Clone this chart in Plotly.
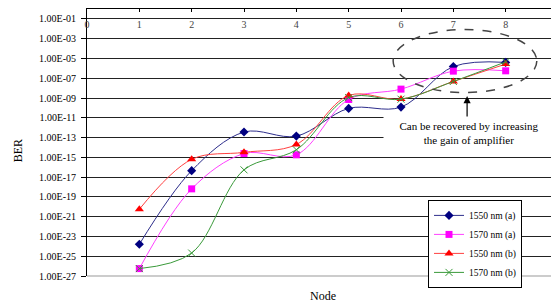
import plotly.graph_objects as go

nodes = [1, 2, 3, 4, 5, 6, 7, 8]
ber_1550a = [1.6e-24, 4.5e-17, 3.6e-13, 1.4e-13, 8.9e-11, 1.2e-10, 1.5e-6, 4.0e-6]
ber_1570a = [5.6e-27, 6.5e-19, 2.4e-15, 1.8e-15, 7.1e-10, 7.9e-9, 5.2e-7, 5.6e-7]
ber_1550b = [5.6e-21, 6.3e-16, 3.2e-15, 2.0e-14, 1.8e-9, 7.9e-10, 4.7e-8, 2.7e-6]
ber_1570b = [5.6e-27, 2.1e-25, 5.4e-17, 5.8e-15, 1.1e-9, 7.6e-10, 4.7e-8, 4.5e-6]

series_names = ["1550 nm (a)", "1570 nm (a)", "1550 nm (b)", "1570 nm (b)"]
x_ticks = list(range(0, 10))
y_exps = list(range(-27, 0, 2))
y_tickvals = [10.0 ** e for e in y_exps]
y_ticktext = ["1.00E-%02d" % (-e) for e in y_exps]

FONT = "Liberation Serif"

styles = [
    dict(line=dict(color="#2E2E8C", width=1), marker=dict(symbol="diamond", size=7, color="#000080")),
    dict(line=dict(color="#FF40FF", width=1), marker=dict(symbol="square", size=7, color="#FF00FF")),
    dict(line=dict(color="#FF4040", width=1), marker=dict(symbol="triangle-up", size=8, color="#FF0000")),
    dict(line=dict(color="#3A9A3A", width=1), marker=dict(symbol="x-thin", size=7, color="#3A9A3A",
                                                          line=dict(color="#3A9A3A", width=1))),
]

fig = go.Figure()
for name, ys, st in zip(series_names, [ber_1550a, ber_1570a, ber_1550b, ber_1570b], styles):
    fig.add_trace(go.Scatter(
        x=nodes, y=ys, name=name, mode="lines+markers",
        line=dict(shape="spline", smoothing=1, **st["line"]),
        marker=st["marker"],
    ))

# the page body adds an 8px offset; figure is sized so the plot lands where the reference has it
fig.update_layout(
    width=551, height=298,
    margin=dict(l=79, r=1, t=1, b=30),
    paper_bgcolor="white", plot_bgcolor="white",
    font=dict(family=FONT, size=10, color="black"),
    showlegend=True,
    legend=dict(
        x=0.724, y=0.285, xanchor="left", yanchor="top",
        bgcolor="white", bordercolor="black", borderwidth=1,
        font=dict(family=FONT, size=9.5),
        tracegroupgap=0, itemwidth=30,
    ),
    xaxis=dict(
        range=[0, 9], tickvals=x_ticks, side="top",
        ticklabelposition="inside", ticklabelstandoff=8, ticklabeloverflow="allow",
        ticks="inside", ticklen=3, tickcolor="black",
        showline=True, linecolor="black", linewidth=1,
        showgrid=False, zeroline=False, automargin=False,
        tickfont=dict(family=FONT, size=10),
    ),
    yaxis=dict(
        type="log", range=[-27, 0],
        tickvals=y_tickvals, ticktext=y_ticktext,
        ticks="outside", ticklen=5, tickcolor="black",
        ticklabelstandoff=3,
        showline=True, linecolor="black", linewidth=1,
        showgrid=True, gridcolor="#222222", gridwidth=1,
        zeroline=False, automargin=False,
        tickfont=dict(family=FONT, size=10),
    ),
    shapes=[
        dict(type="line", xref="paper", yref="paper", x0=0, x1=1, y0=0, y1=0,
             line=dict(color="#BBBBBB", width=1.5)),
        dict(type="line", xref="paper", yref="paper", x0=1, x1=1, y0=0, y1=1,
             line=dict(color="#888888", width=1)),
        dict(type="circle", xref="paper", yref="paper", x0=0.650, x1=0.955, y0=0.687, y1=0.923,
             line=dict(color="#444444", width=1.5, dash="dash")),
    ],
    annotations=[
        dict(text="Node", xref="paper", yref="paper", x=0.5, y=-0.075, yanchor="middle",
             showarrow=False, font=dict(family=FONT, size=12)),
        dict(text="BER", xref="paper", yref="paper", x=-0.147, y=0.47, textangle=-90,
             xanchor="center", yanchor="middle",
             showarrow=False, font=dict(family=FONT, size=12)),
        dict(text="Can be recovered by increasing<br>the gain of amplifier",
             xref="paper", yref="paper", x=0.811, y=0.536, xanchor="center", yanchor="middle",
             showarrow=False, bgcolor="white", width=168, height=38,
             font=dict(family=FONT, size=11)),
        dict(text="", xref="paper", yref="paper", x=0.807, y=0.674,
             showarrow=True, ax=0, ay=22, arrowhead=2, arrowsize=1.2, arrowwidth=1.2,
             arrowcolor="black"),
    ],
)

fig.write_html("out.html")
